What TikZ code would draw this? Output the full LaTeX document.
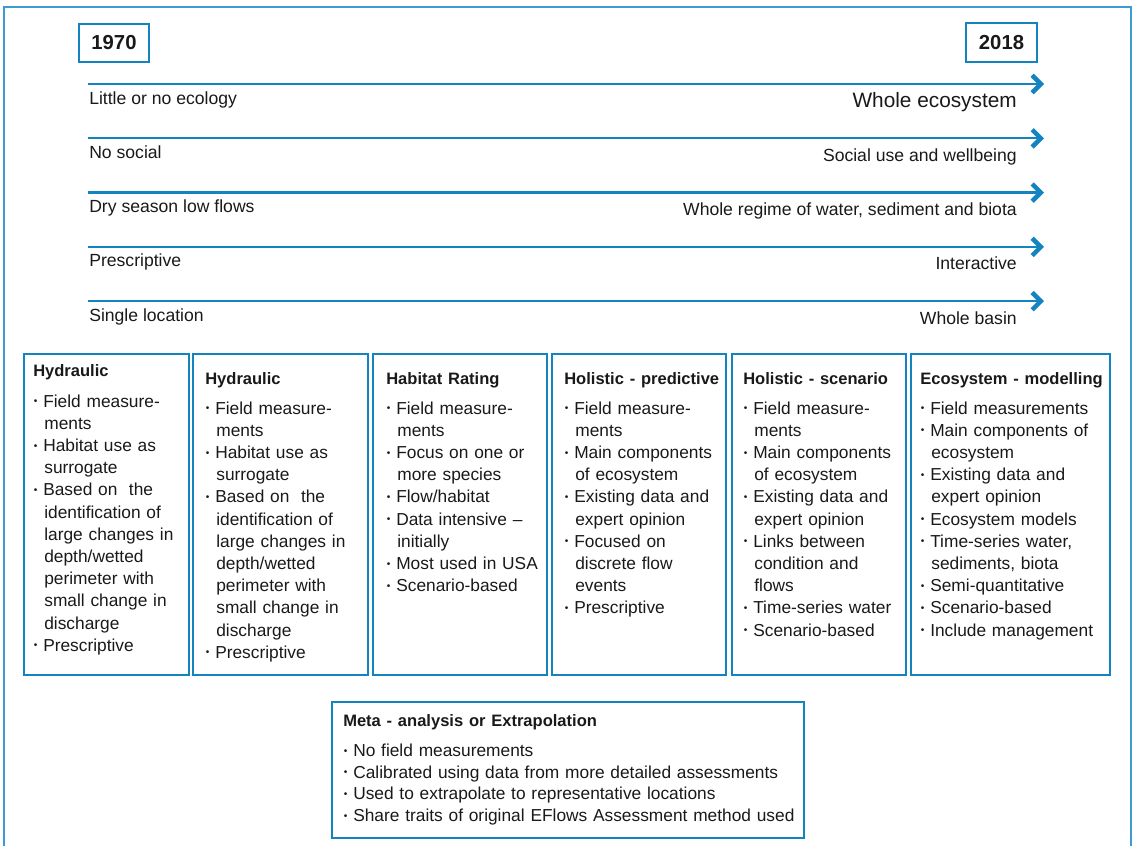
\documentclass[tikz,border=0pt]{standalone}
\usepackage{fontspec}
\setmainfont{Liberation Sans}
\usetikzlibrary{arrows.meta,fit}
\definecolor{boxblue}{RGB}{20,132,192}
\definecolor{frameblue}{RGB}{60,155,210}
\definecolor{ink}{RGB}{25,25,25}
% bullet line and its continuation lines
\newcommand{\bpt}[1]{\makebox[7.5pt][l]{\hspace{0.5pt}\raisebox{1.7pt}{\fontsize{7.6}{7.6}\selectfont\textbullet}}#1}
\newcommand{\bcont}[1]{\hspace*{8.3pt}#1}
\newcommand{\ttl}[1]{{\fontsize{12.4}{16}\selectfont\bfseries #1}}
\begin{document}
\begin{tikzpicture}[x=0.75pt,y=-0.75pt,
  panel/.style={draw=boxblue,line width=1.9pt,inner sep=0pt},
  yearbox/.style={draw=boxblue,line width=1.9pt,inner sep=0pt,text=ink,font=\fontsize{15.2}{18}\selectfont\bfseries},
  timeline/.style={draw=boxblue,line width=1.7pt,-{Straight Barb[length=6.5pt,width=13pt,line width=3.4pt]}},
  lbl/.style={inner sep=0pt,text=ink,font=\fontsize{13.2}{16}\selectfont},
  btext/.style={inner sep=0pt,text=ink,anchor=base west,text width=190pt,align=left,font=\fontsize{13}{16.65}\selectfont}]
\useasboundingbox (0,0) rectangle (1134,846);

% outer frame, open at the bottom
\draw[frameblue,line width=1.5pt] (4,846) |- (1131,7) -- (1131,846);

% years
\node[yearbox,minimum width=52.5pt,minimum height=28.5pt] (y1970) at (114,43) {1970};
\node[yearbox,minimum width=53.25pt,minimum height=29.25pt] (y2018) at (1001.5,42.5) {2018};

% timelines with their two ends
\foreach \i/\yy/\lt/\rt in {1/84/Little or no ecology/{\fontsize{15.6}{18}\selectfont Whole ecosystem},
                            2/138.3/No social/Social use and wellbeing,
                            3/192.6/Dry season low flows/{Whole regime of water, sediment and biota},
                            4/246.9/Prescriptive/Interactive,
                            5/301.2/Single location/Whole basin}{
  \coordinate (s\i) at (88,\yy);
  \coordinate (e\i) at (1044,\yy);
  \draw[timeline] (s\i) -- (e\i);
  \node[lbl,anchor=base west] (l\i) at (89,\yy+20) {\lt};
  \node[lbl,anchor=base east] (r\i) at (1017,\yy+23) {\rt};
}

% method panels
\coordinate (p1a) at (24,354);  \coordinate (p1b) at (189,675);
\coordinate (p2a) at (193,354); \coordinate (p2b) at (368,675);
\coordinate (p3a) at (373,354); \coordinate (p3b) at (547,675);
\coordinate (p4a) at (552,354); \coordinate (p4b) at (726,675);
\coordinate (p5a) at (732,354); \coordinate (p5b) at (906,675);
\coordinate (p6a) at (911,354); \coordinate (p6b) at (1110,675);
\coordinate (p7a) at (332,702); \coordinate (p7b) at (804,838);
\foreach \i in {1,...,7}{\node[panel,fit=(p\i a)(p\i b)] (panel\i) {};}

\node[btext] (txt1) at (33,376) {\ttl{Hydraulic}\\[6.6pt]
  \bpt{Field measure-}\\ \bcont{ments}\\
  \bpt{Habitat use as}\\ \bcont{surrogate}\\
  \bpt{Based on\ \ the}\\ \bcont{identification of}\\ \bcont{large changes in}\\
  \bcont{depth/wetted}\\ \bcont{perimeter with}\\ \bcont{small change in}\\ \bcont{discharge}\\
  \bpt{Prescriptive}};

\node[btext] (txt2) at (205,384) {\ttl{Hydraulic}\\[5.85pt]
  \bpt{Field measure-}\\ \bcont{ments}\\
  \bpt{Habitat use as}\\ \bcont{surrogate}\\
  \bpt{Based on\ \ the}\\ \bcont{identification of}\\ \bcont{large changes in}\\
  \bcont{depth/wetted}\\ \bcont{perimeter with}\\ \bcont{small change in}\\ \bcont{discharge}\\
  \bpt{Prescriptive}};

\node[btext] (txt3) at (386,384) {\ttl{Habitat Rating}\\[5.85pt]
  \bpt{Field measure-}\\ \bcont{ments}\\
  \bpt{Focus on one or}\\ \bcont{more species}\\
  \bpt{Flow/habitat}\\
  \bpt{Data intensive --}\\ \bcont{initially}\\
  \bpt{Most used in USA}\\
  \bpt{Scenario-based}};

\node[btext] (txt4) at (564,384) {\ttl{Holistic - predictive}\\[5.85pt]
  \bpt{Field measure-}\\ \bcont{ments}\\
  \bpt{Main components}\\ \bcont{of ecosystem}\\
  \bpt{Existing data and}\\ \bcont{expert opinion}\\
  \bpt{Focused on}\\ \bcont{discrete flow}\\ \bcont{events}\\
  \bpt{Prescriptive}};

\node[btext] (txt5) at (743,384) {\ttl{Holistic - scenario}\\[5.85pt]
  \bpt{Field measure-}\\ \bcont{ments}\\
  \bpt{Main components}\\ \bcont{of ecosystem}\\
  \bpt{Existing data and}\\ \bcont{expert opinion}\\
  \bpt{Links between}\\ \bcont{condition and}\\ \bcont{flows}\\
  \bpt{Time-series water}\\
  \bpt{Scenario-based}};

\node[btext] (txt6) at (920,384) {\ttl{Ecosystem - modelling}\\[5.85pt]
  \bpt{Field measurements}\\
  \bpt{Main components of}\\ \bcont{ecosystem}\\
  \bpt{Existing data and}\\ \bcont{expert opinion}\\
  \bpt{Ecosystem models}\\
  \bpt{Time-series water,}\\ \bcont{sediments, biota}\\
  \bpt{Semi-quantitative}\\
  \bpt{Scenario-based}\\
  \bpt{Include management}};

\node[btext,text width=450pt,font=\fontsize{13}{16.3}\selectfont] (txt7) at (343,726) {\ttl{Meta - analysis or Extrapolation}\\[6.4pt]
  \bpt{No field measurements}\\
  \bpt{Calibrated using data from more detailed assessments}\\
  \bpt{Used to extrapolate to representative locations}\\
  \bpt{Share traits of original EFlows Assessment method used}};
\end{tikzpicture}
\end{document}
